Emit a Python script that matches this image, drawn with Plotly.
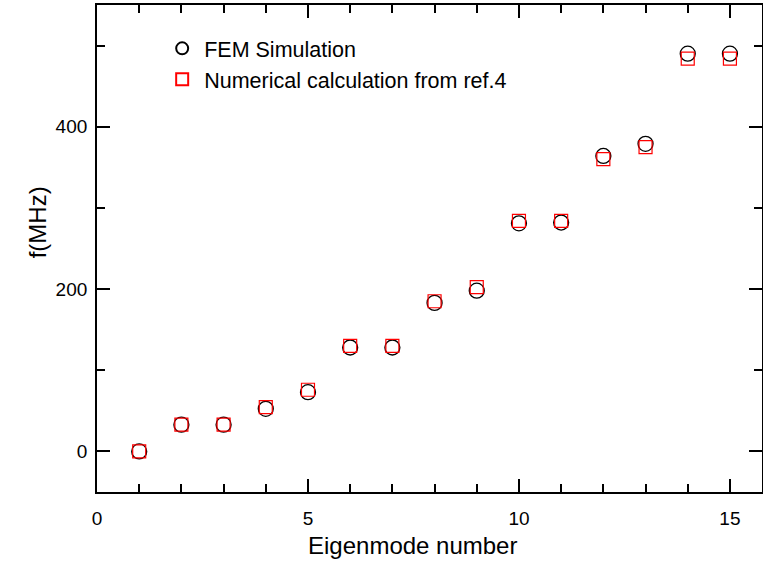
import plotly.graph_objects as go

modes = list(range(1, 16))
fem = [0, 33, 33, 52.5, 73, 128, 128, 183, 198, 281, 282, 364, 379, 490, 490]
numerical = [0, 33, 33, 54.5, 76, 130, 130, 185, 202.5, 284, 284, 360, 375, 484, 484]

fig = go.Figure()
fig.add_trace(go.Scatter(
    x=modes, y=fem, mode="markers", name="FEM Simulation",
    marker=dict(symbol="circle-open", size=15, color="black", line=dict(width=1.3, color="black")),
))
fig.add_trace(go.Scatter(
    x=modes, y=numerical, mode="markers", name="Numerical calculation from ref.4",
    marker=dict(symbol="square-open", size=13, color="red", line=dict(width=1.2, color="red")),
))

font = "Liberation Sans, Arial, sans-serif"
axis_common = dict(
    showline=True, linecolor="black", linewidth=1.8, mirror="ticks",
    ticks="inside", ticklen=13, tickwidth=1.5, tickcolor="black",
    showgrid=False, zeroline=False,
    tickfont=dict(family=font, size=19, color="black"),
)
fig.update_xaxes(range=[0, 15.76], tickvals=[0, 5, 10, 15], ticklabelstandoff=8,
                 minor=dict(dtick=1, tick0=0, ticks="inside", ticklen=8, tickwidth=1.5, tickcolor="black"),
                 **axis_common)
fig.update_yaxes(range=[-50, 550], tickvals=[0, 200, 400], ticklabelstandoff=4,
                 minor=dict(dtick=100, tick0=0, ticks="inside", ticklen=8, tickwidth=1.5, tickcolor="black"),
                 **axis_common)

fig.add_annotation(text="Eigenmode number", xref="paper", yref="paper", x=0.474, y=-0.109,
                   xanchor="center", yanchor="middle", showarrow=False,
                   font=dict(family=font, size=24, color="black"))
fig.add_annotation(text="f(MHz)", xref="paper", yref="paper", x=-0.09, y=0.554,
                   xanchor="center", yanchor="middle", textangle=-90, showarrow=False,
                   font=dict(family=font, size=24, color="black"))

fig.update_layout(
    width=763, height=562,
    margin=dict(l=97, r=1, t=5, b=70, autoexpand=False),
    plot_bgcolor="white", paper_bgcolor="white",
    legend=dict(x=0.095, y=0.953, xanchor="left", yanchor="top", itemsizing="constant",
                itemwidth=34,
                bgcolor="rgba(0,0,0,0)", font=dict(family=font, size=21.5, color="black"),
                tracegroupgap=0),
    showlegend=True,
)

fig.write_html("out.html", config={"displayModeBar": False},
               post_script="document.body.style.margin='0';document.body.style.overflow='hidden';")
